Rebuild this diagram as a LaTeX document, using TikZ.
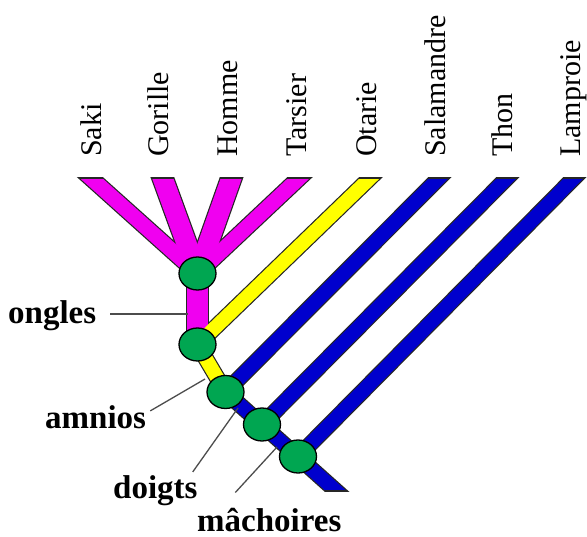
\documentclass[tikz,border=0pt]{standalone}
\usepackage{fontspec}
\setmainfont{Liberation Serif}
\usetikzlibrary{calc,shapes.geometric}
\definecolor{bandpink}{RGB}{240,0,240}
\definecolor{bandyellow}{RGB}{255,255,0}
\definecolor{bandblue}{RGB}{0,0,205}
\definecolor{knotgreen}{RGB}{0,166,81}
\begin{document}
\begin{tikzpicture}[x=1bp, y=-1bp,
    taxon/.style={rotate=90, anchor=west, inner sep=0pt, font=\fontsize{30bp}{36bp}\selectfont},
    trait/.style={anchor=base west, inner sep=0pt, font=\fontsize{33bp}{38bp}\selectfont\bfseries},
    knot/.style={ellipse, draw=black, line width=1.3bp, fill=knotgreen, minimum width=37bp, minimum height=33bp, inner sep=0pt},
    pointer/.style={draw=black!70, line width=1.3bp}]
\useasboundingbox (0,0) rectangle (587,537);

\coordinate (k1) at (197.5,273.5);
\coordinate (k2) at (197.5,344.5);
\coordinate (k3) at (225.5,392);
\coordinate (k4) at (262,424.5);
\coordinate (k5) at (298,456.5);
\coordinate (tail) at (335,490);

\node [taxon] (saki)       at (91,157)  {Saki};
\node [taxon] (gorille)    at (158,157) {Gorille};
\node [taxon] (homme)      at (228,157) {Homme};
\node [taxon] (tarsier)    at (297,157) {Tarsier};
\node [taxon] (otarie)     at (367,157) {Otarie};
\node [taxon] (salamandre) at (435,157) {Salamandre};
\node [taxon] (thon)       at (502,157) {Thon};
\node [taxon] (lamproie)   at (574,157) {Lamproie};

\coordinate (saki-top)       at (92,179);
\coordinate (gorille-top)    at (163,179);
\coordinate (homme-top)      at (231,179);
\coordinate (tarsier-top)    at (298,179);
\coordinate (otarie-top)     at (369,179);
\coordinate (salamandre-top) at (438,179);
\coordinate (thon-top)       at (506,179);
\coordinate (lamproie-top)   at (573,179);

\begin{scope}
\clip (0,177.6) rectangle (587,491.4);
\foreach \a/\b/\w in {saki-top/k1/15, gorille-top/k1/20, homme-top/k1/20, tarsier-top/k1/15, k2/k1/21,
    otarie-top/k2/14, k3/k2/14, salamandre-top/k3/14, thon-top/k4/14, lamproie-top/k5/14, tail/k3/14}
{
  \pgfmathsetmacro\o{\w+2.4}
  \draw [line width=\o bp, black!85] ($(\b)!1.15!(\a)$) -- (\b);
}
\end{scope}
\begin{scope}
\clip (0,179.2) rectangle (587,489.8);
\foreach \a/\b/\w/\c in {saki-top/k1/15/bandpink, gorille-top/k1/20/bandpink, homme-top/k1/20/bandpink,
    tarsier-top/k1/15/bandpink, k2/k1/21/bandpink, otarie-top/k2/14/bandyellow, k3/k2/14/bandyellow,
    salamandre-top/k3/14/bandblue, thon-top/k4/14/bandblue, lamproie-top/k5/14/bandblue, tail/k3/14/bandblue}
  \draw [line width=\w bp, \c] ($(\b)!1.15!(\a)$) -- (\b);
\end{scope}

\node [trait] (ongles)    at (8,323)   {ongles};
\node [trait] (amnios)    at (45,428)  {amnios};
\node [trait] (doigts)    at (113,498) {doigts};
\node [trait] (machoires) at (197,531) {mâchoires};

\coordinate (ongles-tip)    at (188,314);
\coordinate (amnios-tip)    at (205,379);
\coordinate (doigts-tip)    at (238,408);
\coordinate (machoires-tip) at (277,447);

\draw [pointer] ([shift={(14,-9)}]ongles.base east) -- (ongles-tip);
\draw [pointer] ([shift={(4,6)}]amnios.north east) -- (amnios-tip);
\draw [pointer] ([shift={(-5,-3)}]doigts.north east) -- (doigts-tip);
\draw [pointer] ([shift={(-34,-15)}]machoires.north) -- (machoires-tip);

\node [knot] (c1) at (k1) {};
\node [knot] (c2) at (k2) {};
\node [knot] (c3) at (k3) {};
\node [knot] (c4) at (k4) {};
\node [knot] (c5) at (k5) {};

\end{tikzpicture}
\end{document}
